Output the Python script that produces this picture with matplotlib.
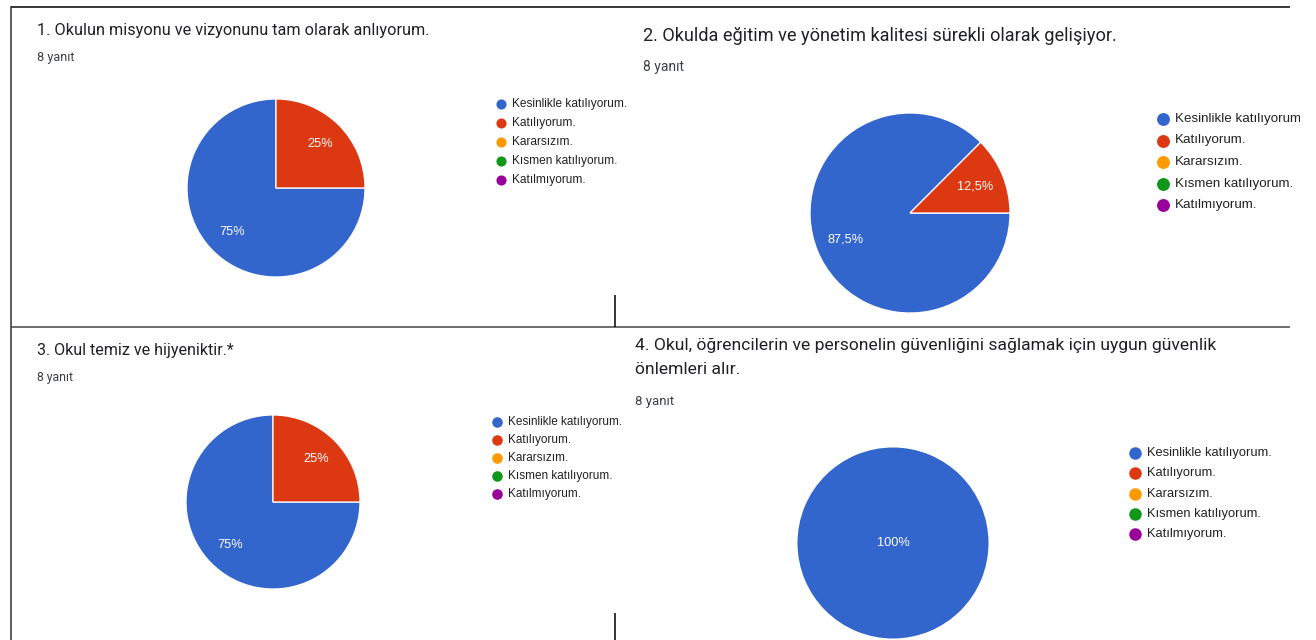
import matplotlib
matplotlib.use("Agg")
import matplotlib.pyplot as plt
from matplotlib.transforms import Bbox

W, H = 1316, 640

categories = ["Kesinlikle katılıyorum.", "Katılıyorum.", "Kararsızım.",
              "Kısmen katılıyorum.", "Katılmıyorum."]
colors = ["#3366cc", "#dc3912", "#ff9900", "#109618", "#990099"]

q1_values = [6, 2, 0, 0, 0]
q2_values = [7, 1, 0, 0, 0]
q3_values = [6, 2, 0, 0, 0]
q4_values = [8, 0, 0, 0, 0]

titles = [
    ["1. Okulun misyonu ve vizyonunu tam olarak anlıyorum."],
    ["2. Okulda eğitim ve yönetim kalitesi sürekli olarak gelişiyor."],
    ["3. Okul temiz ve hijyeniktir.*"],
    ["4. Okul, öğrencilerin ve personelin güvenliğini sağlamak için uygun güvenlik",
     "önlemleri alır."],
]
subtitle = "8 yanıt"

# layout (pixels)
panels = [
    dict(vals=q1_values, cx=276, cy=188, r=89, tx=37, ty=30, tfs=11.7, tls=25,
         sy=57, sfs=9.1, lx=501, ly=104, lstep=19, ms=7.3, lfs=8.6, pfs=9.2),
    dict(vals=q2_values, cx=910, cy=213, r=100, tx=643, ty=36, tfs=13.1, tls=25,
         sy=67, sfs=10.0, lx=1163, ly=119, lstep=21.5, ms=9.3, lfs=9.6, pfs=9.2),
    dict(vals=q3_values, cx=273, cy=502, r=87, tx=37, ty=350, tfs=11.6, tls=25,
         sy=377, sfs=8.8, lx=497, ly=422, lstep=18, ms=7.6, lfs=8.5, pfs=9.2),
    dict(vals=q4_values, cx=893, cy=543, r=95.5, tx=635, ty=345, tfs=12.6, tls=25,
         sy=401, sfs=9.5, lx=1135, ly=453, lstep=20.3, ms=9.0, lfs=9.3, pfs=9.2),
]

fig = plt.figure(figsize=(W / 100, H / 100), dpi=100)
fig.patch.set_facecolor("white")

# overlay axes in pixel coordinates
ov = fig.add_axes([0, 0, 1, 1])
ov.set_xlim(0, W)
ov.set_ylim(H, 0)
ov.axis("off")
ov.set_zorder(5)
ov.patch.set_alpha(0)

# frame lines of the screenshot collage
ov.plot([11, 1290], [6.5, 6.5], color="#000000", lw=1.1, solid_capstyle="butt")
ov.plot([11, 1290], [327.3, 327.3], color="#444444", lw=1.1, solid_capstyle="butt")
ov.plot([11, 11], [6, H], color="#333333", lw=1.1, solid_capstyle="butt")
ov.plot([615, 615], [295, 327], color="#000000", lw=1.1, solid_capstyle="butt")
ov.plot([615, 615], [613, H], color="#000000", lw=1.1, solid_capstyle="butt")

clip = Bbox.from_extents(0, 0, 1300, H)

for i, p in enumerate(panels):
    r = p["r"]
    ax = fig.add_axes([(p["cx"] - r) / W, 1 - (p["cy"] + r) / H, 2 * r / W, 2 * r / H])
    ax.set_xlim(-1, 1)
    ax.set_ylim(-1, 1)
    ax.axis("off")
    vals = [v for v in p["vals"] if v > 0]
    cols = [c for v, c in zip(p["vals"], colors) if v > 0]
    total = sum(vals)
    wedges, _, autotexts = ax.pie(
        vals, colors=cols, startangle=0, counterclock=False, radius=1,
        autopct=lambda pct: ("%.1f%%" % pct).replace(".0%", "%").replace(".", ","),
        pctdistance=0.7,
        wedgeprops=dict(edgecolor="white", linewidth=0.9 if len(vals) > 1 else 0),
        textprops=dict(color="white", fontsize=p["pfs"], family="Liberation Sans"),
    )
    for v, t in zip(vals, autotexts):
        if v == total:
            t.set_position((0, 0))
    ax.set_xlim(-1, 1)
    ax.set_ylim(-1, 1)

    # titles
    for k, line in enumerate(titles[i]):
        ov.text(p["tx"], p["ty"] + k * p["tls"], line, fontsize=p["tfs"],
                family="Roboto", color="#202124", va="center", ha="left")
    ov.text(p["tx"], p["sy"], subtitle, fontsize=p["sfs"], family="Roboto",
            color="#3c4043", va="center", ha="left")

    # legend
    for j, (lab, col) in enumerate(zip(categories, colors)):
        y = p["ly"] + j * p["lstep"]
        ov.plot([p["lx"]], [y], "o", color=col, ms=p["ms"], mec="none")
        t = ov.text(p["lx"] + p["ms"] * 1.389 * 0.5 + 5.5, y, lab, fontsize=p["lfs"],
                    family="Liberation Sans", color="#222222", va="center", ha="left")
        t.set_clip_box(clip)
        t.set_clip_on(True)

fig.savefig("out.png", dpi=100, facecolor="white")
